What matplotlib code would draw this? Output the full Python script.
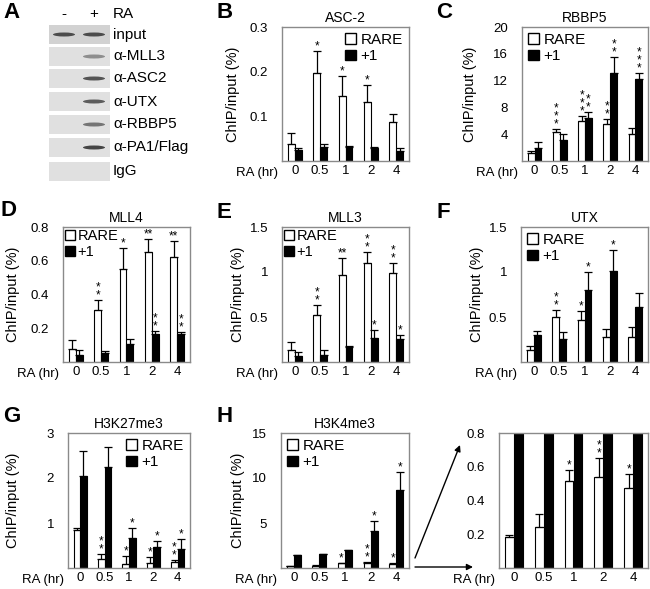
import numpy as np
import matplotlib
matplotlib.use('Agg')
import matplotlib.pyplot as plt
from matplotlib.patches import Rectangle, Ellipse, Patch

plt.rcParams['font.family'] = ['Liberation Sans', 'DejaVu Sans']

W, H = 650, 589

# x categories shared by all bar panels
times = ['0', '0.5', '1', '2', '4']

# panel A (gel): row labels and band intensity for - / + RA lanes
gel_rows = ['input', 'α-MLL3', 'α-ASC2', 'α-UTX', 'α-RBBP5', 'α-PA1/Flag', 'IgG']
gel_minus = [0.85, 0.0, 0.0, 0.0, 0.0, 0.0, 0.0]
gel_plus = [0.85, 0.45, 0.8, 0.75, 0.6, 0.9, 0.0]

# B: ASC-2
asc2_rare = [0.037, 0.196, 0.146, 0.131, 0.088]
asc2_rare_err = [0.025, 0.050, 0.044, 0.040, 0.018]
asc2_p1 = [0.025, 0.032, 0.031, 0.028, 0.023]
asc2_p1_err = [0.003, 0.005, 0.003, 0.003, 0.005]
asc2_rare_sig = ['', '*', '*', '*', '']
asc2_p1_sig = ['', '', '', '', '']

# C: RBBP5
rbbp5_rare = [1.14, 4.27, 6.0, 5.46, 3.97]
rbbp5_rare_err = [0.40, 0.44, 0.70, 0.74, 0.89]
rbbp5_p1 = [1.99, 3.13, 6.35, 13.1, 12.2]
rbbp5_p1_err = [0.79, 0.84, 1.0, 2.4, 0.95]
rbbp5_rare_sig = ['', '*\n*\n*', '*\n*\n*', '*\n*', '']
rbbp5_p1_sig = ['', '', '*\n*', '*\n*', '*\n*\n*']

# D: MLL4
mll4_rare = [0.079, 0.308, 0.55, 0.651, 0.625]
mll4_rare_err = [0.054, 0.059, 0.125, 0.078, 0.090]
mll4_p1 = [0.044, 0.054, 0.109, 0.163, 0.163]
mll4_p1_err = [0.025, 0.013, 0.030, 0.020, 0.012]
mll4_rare_sig = ['', '*\n*', '*', '**', '**']
mll4_p1_sig = ['', '', '', '*\n*', '*\n*']

# E: MLL3
mll3_rare = [0.138, 0.521, 0.968, 1.098, 0.986]
mll3_rare_err = [0.085, 0.112, 0.186, 0.122, 0.119]
mll3_p1 = [0.063, 0.082, 0.167, 0.268, 0.253]
mll3_p1_err = [0.049, 0.056, 0.012, 0.086, 0.052]
mll3_rare_sig = ['', '*\n*', '**', '*\n*', '*\n*']
mll3_p1_sig = ['', '', '', '*', '*']

# F: UTX
utx_rare = [0.137, 0.50, 0.463, 0.274, 0.278]
utx_rare_err = [0.037, 0.081, 0.100, 0.093, 0.107]
utx_p1 = [0.296, 0.259, 0.796, 1.007, 0.615]
utx_p1_err = [0.045, 0.074, 0.200, 0.241, 0.152]
utx_rare_sig = ['', '*\n*', '*', '', '']
utx_p1_sig = ['', '', '*', '*', '']

# G: H3K27me3
k27_rare = [0.837, 0.207, 0.096, 0.119, 0.133]
k27_rare_err = [0.059, 0.112, 0.163, 0.125, 0.037]
k27_p1 = [2.04, 2.24, 0.667, 0.467, 0.43]
k27_p1_err = [0.56, 0.45, 0.222, 0.126, 0.207]
k27_rare_sig = ['', '*\n*', '*', '*', '*\n*']
k27_p1_sig = ['', '', '*', '*', '*']

# H: H3K4me3
k4_rare = [0.184, 0.243, 0.516, 0.54, 0.474]
k4_rare_err = [0.014, 0.075, 0.063, 0.114, 0.081]
k4_p1 = [1.41, 1.52, 1.96, 4.07, 8.63]
k4_p1_err = [0.07, 0.05, 0.08, 1.12, 2.04]
k4_rare_sig = ['', '', '*', '*\n*', '*']
k4_p1_sig = ['', '', '', '*', '*']
k4_zoom_sig = ['', '', '*', '*\n*', '*']

fig = plt.figure(figsize=(W / 100, H / 100), dpi=100)
canvas = fig.add_axes([0, 0, 1, 1])
canvas.set_xlim(0, W)
canvas.set_ylim(H, 0)
canvas.axis('off')


def px_axes(left, top, right, bottom):
    return fig.add_axes([left / W, 1 - bottom / H, (right - left) / W, (bottom - top) / H])


def add_stars(ax, xs, tops, sigs):
    for xp, top, s in zip(xs, tops, sigs):
        if s:
            ax.annotate(s, xy=(xp, top), xytext=(0, -1), textcoords='offset points',
                        ha='center', va='bottom', fontsize=8.5, linespacing=0.55)


def bar_panel(box, rare, rare_err, p1, p1_err, rare_sig, p1_sig, ymax, yticks, ylabels,
              title=None, ylabel_x=None, legend_loc=None, width=0.27, tight_legend=False):
    ax = px_axes(*box)
    x = np.arange(len(times))
    rare = np.array(rare)
    p1 = np.array(p1)
    ax.bar(x - width / 2, rare, width, color='white', edgecolor='black', linewidth=0.8, zorder=2)
    ax.bar(x + width / 2, p1, width, color='black', edgecolor='black', linewidth=0.8, zorder=2)
    zero = np.zeros(len(x))
    ax.errorbar(x - width / 2, rare, yerr=[zero, rare_err], fmt='none', ecolor='black',
                elinewidth=0.9, capsize=3, capthick=0.9, zorder=3)
    ax.errorbar(x + width / 2, p1, yerr=[zero, p1_err], fmt='none', ecolor='black',
                elinewidth=0.9, capsize=3, capthick=0.9, zorder=3)
    add_stars(ax, x - width / 2, rare + np.array(rare_err), rare_sig)
    add_stars(ax, x + width / 2, p1 + np.array(p1_err), p1_sig)
    ax.set_xlim(-0.5, 4.5)
    ax.set_ylim(0, ymax)
    ax.set_xticks(x)
    ax.set_xticklabels(times)
    ax.set_yticks(yticks)
    ax.set_yticklabels(ylabels)
    ax.tick_params(axis='x', length=0, pad=3, labelsize=9.5)
    ax.tick_params(axis='y', length=0, pad=10, labelsize=9.5)
    for sp in ax.spines.values():
        sp.set_color('#8a8a8a')
        sp.set_linewidth(1)
    ax.annotate('RA (hr)', xy=(0, 0), xycoords='axes fraction', xytext=(-3, -8.6),
                textcoords='offset points', ha='right', va='center', fontsize=9.5)
    if title:
        ax.set_title(title, fontsize=10, pad=3.5)
    if ylabel_x is not None:
        ax.set_ylabel('ChIP/input (%)', fontsize=10.5)
        ax.yaxis.set_label_coords((ylabel_x + 7 - box[0]) / (box[2] - box[0]), 0.5)
    if legend_loc:
        handles = [Patch(facecolor='white', edgecolor='black'), Patch(facecolor='black', edgecolor='black')]
        if tight_legend:
            ax.legend(handles, ['RARE', '+1'], loc=legend_loc, frameon=False, fontsize=10.5,
                      handlelength=0.7, handleheight=0.7, handletextpad=0.15, borderpad=0.1,
                      labelspacing=0.15, borderaxespad=0.05)
        else:
            ax.legend(handles, ['RARE', '+1'], loc=legend_loc, frameon=False, fontsize=11,
                      handlelength=0.7, handleheight=0.7, handletextpad=0.3, borderpad=0.15,
                      labelspacing=0.15, borderaxespad=0.25)
    return ax


# panel A gel
row_tops = [25, 47, 69, 92, 115, 138, 162]
for i, (top, name, m, p) in enumerate(zip(row_tops, gel_rows, gel_minus, gel_plus)):
    bg = '#d2d2d2' if i == 0 else '#e0e0e0'
    canvas.add_patch(Rectangle((49, top), 61, 19, facecolor=bg, edgecolor='none'))
    for lane_x, val in ((64, m), (94, p)):
        if val > 0:
            g = 0.85 - 0.65 * val
            canvas.add_patch(Ellipse((lane_x, top + 9.5), 22, 4, facecolor=(g, g, g), edgecolor='none'))
    canvas.text(113, top + 9.5, name, ha='left', va='center', fontsize=11)
canvas.text(64, 14, '-', ha='center', va='center', fontsize=11)
canvas.text(94, 14, '+', ha='center', va='center', fontsize=11)
canvas.text(113, 14, 'RA', ha='left', va='center', fontsize=11)

# panel letters
for letter, lx, ly in [('A', 3, 12), ('B', 216, 12), ('C', 436, 12), ('D', 1, 210), ('E', 216, 213),
                       ('F', 436, 213), ('G', 3, 416), ('H', 216, 416)]:
    canvas.text(lx, ly, letter, ha='left', va='center', fontsize=16, fontweight='bold')

bar_panel((282, 27, 409, 161), asc2_rare, asc2_rare_err, asc2_p1, asc2_p1_err, asc2_rare_sig, asc2_p1_sig,
          0.3, [0.1, 0.2, 0.3], ['0.1', '0.2', '0.3'], 'ASC-2', 233, 'upper right')
bar_panel((522, 27, 648, 161), rbbp5_rare, rbbp5_rare_err, rbbp5_p1, rbbp5_p1_err, rbbp5_rare_sig, rbbp5_p1_sig,
          20, [4, 8, 12, 16, 20], ['4', '8', '12', '16', '20'], 'RBBP5', 470, 'upper left')
bar_panel((63, 227, 190, 362), mll4_rare, mll4_rare_err, mll4_p1, mll4_p1_err, mll4_rare_sig, mll4_p1_sig,
          0.8, [0.2, 0.4, 0.6, 0.8], ['0.2', '0.4', '0.6', '0.8'], 'MLL4', 13, 'upper left',
          tight_legend=True)
bar_panel((282, 227, 409, 362), mll3_rare, mll3_rare_err, mll3_p1, mll3_p1_err, mll3_rare_sig, mll3_p1_sig,
          1.5, [0.5, 1, 1.5], ['0.5', '1', '1.5'], 'MLL3', 238, 'upper left', tight_legend=True)
bar_panel((521, 227, 648, 362), utx_rare, utx_rare_err, utx_p1, utx_p1_err, utx_rare_sig, utx_p1_sig,
          1.5, [0.5, 1, 1.5], ['0.5', '1', '1.5'], 'UTX', 477, 'upper left')
bar_panel((68, 433, 190, 568), k27_rare, k27_rare_err, k27_p1, k27_p1_err, k27_rare_sig, k27_p1_sig,
          3, [1, 2, 3], ['1', '2', '3'], 'H3K27me3', 13, 'upper right')
bar_panel((281, 433, 409, 568), k4_rare, k4_rare_err, k4_p1, k4_p1_err, k4_rare_sig, k4_p1_sig,
          15, [5, 10, 15], ['5', '10', '15'], 'H3K4me3', 238, 'upper left')
bar_panel((499, 433, 648, 568), k4_rare, k4_rare_err, k4_p1, k4_p1_err, k4_zoom_sig, ['', '', '', '', ''],
          0.8, [0.2, 0.4, 0.6, 0.8], ['0.2', '0.4', '0.6', '0.8'], width=0.3)

# zoom arrows from H to the inset
arrow = dict(arrowstyle='-|>', color='black', lw=1, mutation_scale=9, shrinkA=0, shrinkB=0)
canvas.annotate('', xy=(460, 445), xytext=(415, 558), arrowprops=arrow)
canvas.annotate('', xy=(473, 567), xytext=(415, 567), arrowprops=arrow)

fig.savefig('out.png', dpi=100)
